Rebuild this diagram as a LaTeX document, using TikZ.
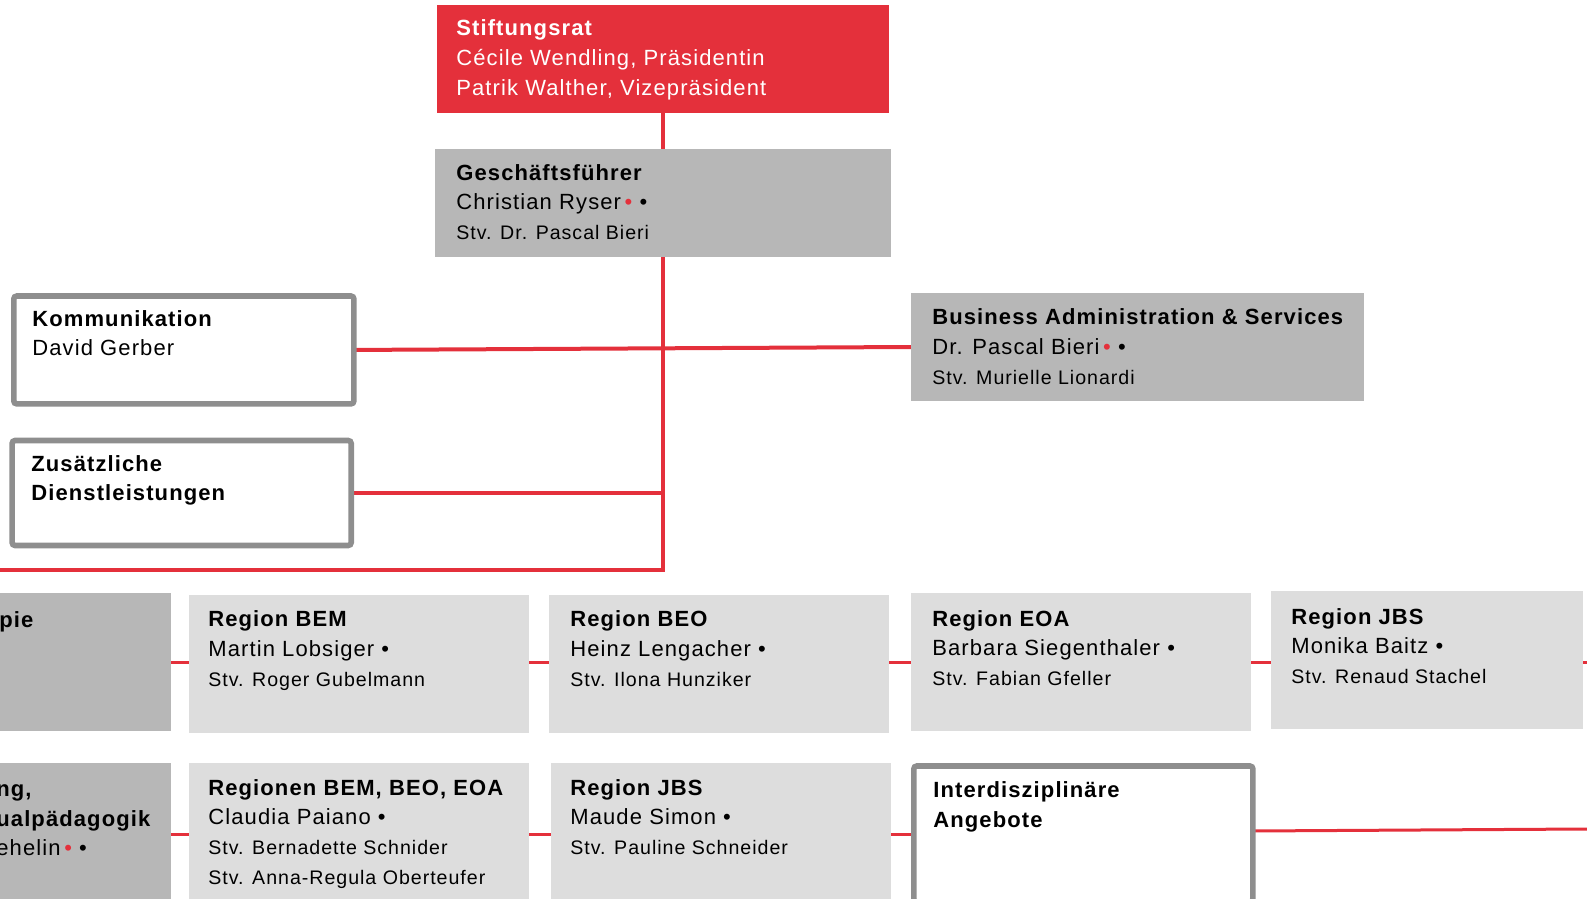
\documentclass[tikz,border=0pt]{standalone}
\usepackage{fontspec}
\setmainfont{Liberation Sans}[LetterSpace=5]
\usepackage{tikz}
\usetikzlibrary{positioning,fit,calc,backgrounds}

\definecolor{orgRot}{HTML}{E4303B}
\definecolor{orgGrau}{HTML}{B7B7B7}
\definecolor{orgHell}{HTML}{DDDDDD}
\definecolor{orgRand}{HTML}{8E8E8E}

\newcommand{\gross}{\fontsize{11}{14.8}\selectfont}
\newcommand{\klein}{\fontsize{9.8}{14.3}\selectfont}
\newcommand{\rotpunkt}{{\color{orgRot}•}}

\begin{document}
\begin{tikzpicture}[x=0.5pt, y=-0.5pt,
	feld/.style={inner sep=0pt, outer sep=0pt},
	dunkel/.style={feld, fill=orgGrau},
	hell/.style={feld, fill=orgHell},
	rahmen/.style={feld, fill=white, draw=orgRand, line width=2.8pt, rounded corners=1.5pt},
	txt/.style={anchor=north west, inner sep=0pt, align=left, font=\gross, execute at begin node=\strut},
	linie/.style={orgRot, line width=2pt},
	duenn/.style={orgRot, line width=1.5pt}]
	\useasboundingbox (0,0) rectangle (1587,899); % Bildausschnitt
	\clip (0,0) rectangle (1587,899);
	
	% Leitung
	\node[feld, fill=orgRot, fit={(437,5) (889,113)}] (rat) {};
	\node[txt, text=white] (ratT) at (456,19.5) {\textbf{Stiftungsrat}\\Cécile Wendling, Präsidentin\\Patrik Walther, Vizepräsident};
	
	\node[dunkel, fit={(435,149) (891,257)}] (gf) {};
	\node[txt] (gfT) at (456,164) {\textbf{Geschäftsführer}\\Christian Ryser\,\rotpunkt{} •\\{\klein Stv. Dr. Pascal Bieri}};
	
	% Stabsstellen
	\node[rahmen, fit={(13.8,296) (353.9,403.9)}] (komm) {};
	\node[txt] (kommT) at (32,310) {\textbf{Kommunikation}\\David Gerber};
	
	\node[rahmen, fit={(12.1,440.5) (351.2,545.5)}] (zus) {};
	\node[txt] (zusT) at (31,455) {\textbf{Zusätzliche}\\\textbf{Dienstleistungen}};
	
	\node[dunkel, fit={(911,293) (1364,401)}] (bas) {};
	\node[txt] (basT) at (932,308.5) {\textbf{Business Administration \& Services}\\Dr. Pascal Bieri\,\rotpunkt{} •\\{\klein Stv. Murielle Lionardi}};
	
	% Reihe 1
	\node[dunkel, fit={(-60,593) (171,731)}] (thera) {};
	\node[txt] (theraT) at (-1,606) {\textbf{pie}};
	
	\node[hell, fit={(189,595) (529,733)}] (bem) {};
	\node[txt] (bemT) at (208,610.5) {\textbf{Region BEM}\\Martin Lobsiger •\\{\klein Stv. Roger Gubelmann}};
	
	\node[hell, fit={(549,595) (889,733)}] (beo) {};
	\node[txt] (beoT) at (570,610.5) {\textbf{Region BEO}\\Heinz Lengacher •\\{\klein Stv. Ilona Hunziker}};
	
	\node[hell, fit={(911,593) (1251,731)}] (eoa) {};
	\node[txt] (eoaT) at (932,610) {\textbf{Region EOA}\\Barbara Siegenthaler •\\{\klein Stv. Fabian Gfeller}};
	
	\node[hell, fit={(1271,591) (1583,729)}] (jbs) {};
	\node[txt] (jbsT) at (1291,608) {\textbf{Region JBS}\\Monika Baitz •\\{\klein Stv. Renaud Stachel}};
	
	% Reihe 2
	\node[dunkel, fit={(-60,763) (171,905)}] (heil) {};
	\node[txt] (heilT) at (-4,784.5) {\textbf{ng,}\\\textbf{ualpädagogik}\\ehelin\,\rotpunkt{} •};
	
	\node[hell, fit={(189,763) (529,905)}] (alle) {};
	\node[txt] (alleT) at (208,779) {\textbf{Regionen BEM, BEO, EOA}\\Claudia Paiano •\\{\klein Stv. Bernadette Schnider}\\{\klein Stv. Anna-Regula Oberteufer}};
	
	\node[hell, fit={(551,763) (891,905)}] (jbsz) {};
	\node[txt] (jbszT) at (570,779) {\textbf{Region JBS}\\Maude Simon •\\{\klein Stv. Pauline Schneider}};
	
	\node[rahmen, fit={(913.8,766) (1252.9,902)}] (inter) {};
	\node[txt] (interT) at (933,781.5) {\textbf{Interdisziplinäre}\\\textbf{Angebote}};
	
	\coordinate (knick) at (663,570);
	\coordinate (links) at (0,570);
	\coordinate (rechtsA) at (1587,662);
	\coordinate (rechtsB) at (1587,829);
	
	% Linien hinter den Kaesten
	\begin{scope}[on background layer]
		\draw[linie] (rat.south) -- (gf.north);
		\draw[linie] (gf.south) -- (knick) -- (links);
		\draw[linie] (komm.east) -- (bas.west);
		\draw[linie] (zus.east) -- (zus.east -| knick);
		
		\draw[duenn] (thera.east) -- (rechtsA); % laeuft hinter Reihe 1
		
		\draw[duenn] (heil.east) -- (alle.west);
		\draw[duenn] (alle.east) -- (jbsz.west);
		\draw[duenn] (jbsz.east) -- (inter.west);
		\draw[duenn] ([yshift=1.5pt]inter.east) -- (rechtsB);
	\end{scope}
\end{tikzpicture}
\end{document}
